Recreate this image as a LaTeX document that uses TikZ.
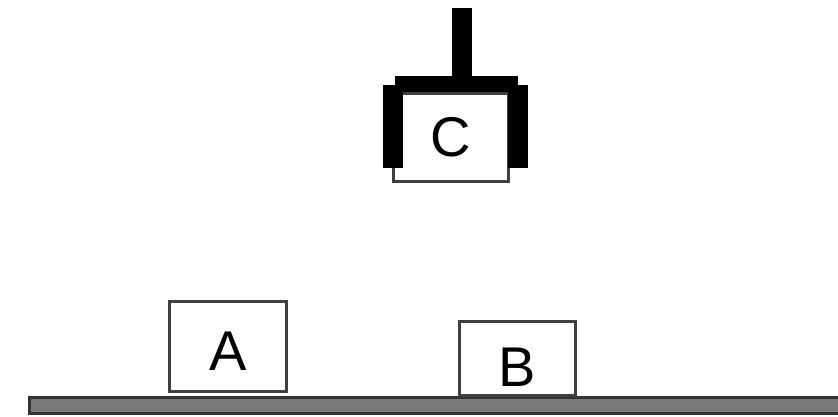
\documentclass[tikz,border=0pt]{standalone}
\usepackage{fontspec}
\setmainfont{Liberation Sans}
\begin{document}
\begin{tikzpicture}[x=1pt,y=-1pt,
			block/.style = {draw=black!75, line width=3pt, fill=white, inner sep=0pt,
				font=\fontsize{56}{60}\selectfont},
			jaw/.style = {fill=black}]
			\useasboundingbox (0,0) rectangle (838,417);
			
			% table
			\draw[draw=black!80, line width=3pt, fill=black!52] (29,397) rectangle (840,413);
			
			\node[block, minimum width=117pt, minimum height=90pt, text height=47pt, text depth=0pt] (blockA) at (228,346.5) {A};
			\node[block, minimum width=116pt, minimum height=74pt, text height=56pt, text depth=0pt] (blockB) at (517.5,358.5) {B};
			\node[block, minimum width=115pt, minimum height=88pt] (blockC) at (451,137.5) {C};
			
			% gripper
			\fill[jaw] (452,8) rectangle (472,77);
			\fill[jaw] (395,76) rectangle (518,92);
			\fill[jaw] (383,85) rectangle (403,168);
			\fill[jaw] (508,85) rectangle (528,168);
			\end{tikzpicture}
\end{document}
